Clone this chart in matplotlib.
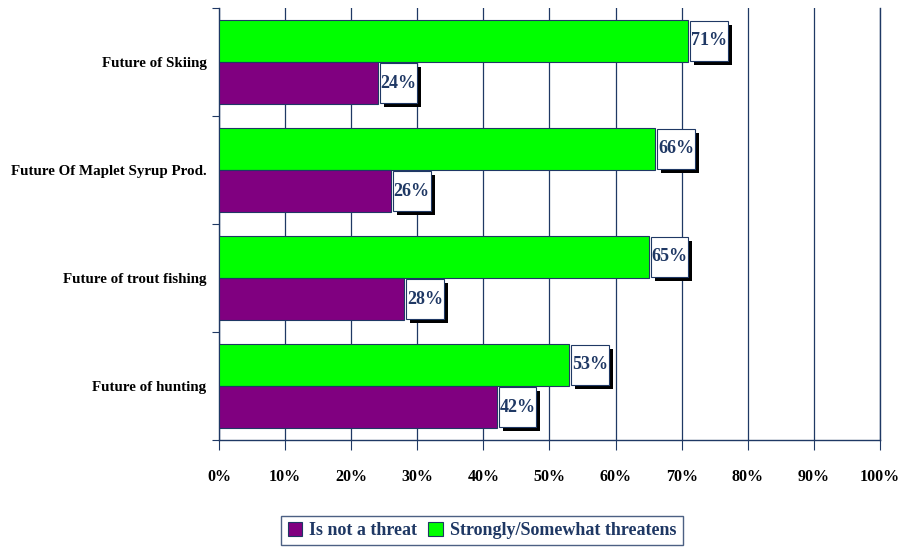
import matplotlib.pyplot as plt
import matplotlib.patches as mpatches
import matplotlib.patheffects as pe
import numpy as np

# data, top to bottom
categories = ["Future of Skiing", "Future Of Maplet Syrup Prod.",
              "Future of trout fishing", "Future of hunting"]
threatens = [71, 66, 65, 53]
not_threat = [24, 26, 28, 42]
xticks = [0, 10, 20, 30, 40, 50, 60, 70, 80, 90, 100]

navy = "#1f3864"
green = "#00ff00"
purple = "#800080"

plt.rcParams['font.family'] = ['Liberation Serif', 'DejaVu Serif']

fig = plt.figure(figsize=(9.06, 5.48), dpi=100)
ax = fig.add_axes([0.2417, 0.197, 0.7296, 0.7883])

n = len(categories)
y = np.arange(n)[::-1].astype(float)  # top category at highest y
h = 0.39

ax.barh(y + h / 2, threatens, height=h, color=green, edgecolor=navy, lw=0.8, zorder=3,
        label="Strongly/Somewhat threatens")
ax.barh(y - h / 2, not_threat, height=h, color=purple, edgecolor=navy, lw=0.8, zorder=3,
        label="Is not a threat")

# value labels in white boxes with black shadow
box_w = 5.7
shadow = [pe.withSimplePatchShadow(offset=(3, -3), shadow_rgbFace='black', alpha=1)]
for vals, yy in ((threatens, y + h / 2), (not_threat, y - h / 2)):
    for v, yc in zip(vals, yy):
        r = mpatches.Rectangle((v + 0.3, yc - h / 2 + 0.01), box_w, h - 0.02,
                               facecolor='white', edgecolor=navy, lw=0.8, zorder=4)
        r.set_path_effects(shadow)
        ax.add_patch(r)
        ax.text(v + 0.3 + box_w / 2, yc, f"{v}%", ha='center', va='center',
                fontsize=13, fontweight='bold', color=navy, zorder=5)

ax.set_xlim(0, 100)
ax.set_ylim(-0.5, n - 0.5)
ax.set_xticks(xticks)
ax.set_xticklabels([f"{t}%" for t in xticks], fontsize=11.5, fontweight='bold')
ax.set_yticks(np.arange(n + 1) - 0.5)
ax.set_yticklabels([])
ax.set_yticks(y, minor=True)
ax.set_yticklabels(categories, minor=True, fontsize=10.8, fontweight='bold')
ax.tick_params(axis='y', which='minor', length=0, pad=9)
ax.tick_params(axis='y', which='major', length=5, color=navy, direction='out')
ax.tick_params(axis='x', length=7, color=navy, direction='out', pad=14)

ax.xaxis.grid(True, color=navy, lw=0.9, zorder=0)
ax.set_axisbelow(True)
ax.spines['top'].set_visible(False)
for s in ('left', 'bottom', 'right'):
    ax.spines[s].set_color(navy)
    ax.spines[s].set_linewidth(1)

handles, labels = ax.get_legend_handles_labels()
leg = fig.legend(handles[::-1], labels[::-1], loc='center', bbox_to_anchor=(0.532, 0.032),
                 ncol=2, frameon=True, fancybox=False, handlelength=0.8, handleheight=0.8,
                 handletextpad=0.4, columnspacing=0.6, borderpad=0.35,
                 prop={'size': 13, 'weight': 'bold'})
leg.get_frame().set_edgecolor(navy)
leg.get_frame().set_linewidth(1)
for t in leg.get_texts():
    t.set_color(navy)

fig.savefig("out.png", dpi=100)
